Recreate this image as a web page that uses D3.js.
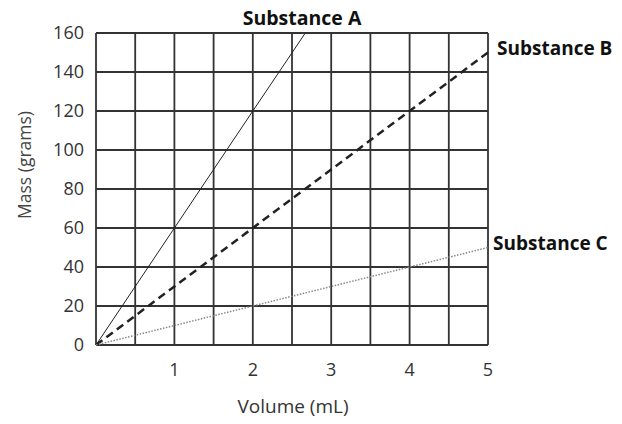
<!DOCTYPE html>
<html>
<head>
<meta charset="utf-8">
<script src="https://cdn.jsdelivr.net/npm/d3@7"></script>
<style>
  body { margin: 0; background: #fff; }
  text { font-family: "Open Sans", sans-serif; }
</style>
</head>
<body>
<div id="chart"></div>
<script>
const volumeA = [0, 1, 2, 2.67];
const massA = [0, 60, 120, 160];
const volumeB = [0, 1, 2, 3, 4, 5];
const massB = [0, 30, 60, 90, 120, 150];
const volumeC = [0, 1, 2, 3, 4, 5];
const massC = [0, 10, 20, 30, 40, 50];
const xTicks = [1, 2, 3, 4, 5];
const yTicks = [0, 20, 40, 60, 80, 100, 120, 140, 160];
const xGrid = [0, 0.5, 1, 1.5, 2, 2.5, 3, 3.5, 4, 4.5, 5];

const width = 622, height = 424;
const margin = {left: 96, right: 134, top: 33, bottom: 79};

const svg = d3.select("#chart").append("svg")
    .attr("width", width)
    .attr("height", height);

const x = d3.scaleLinear().domain([0, 5]).range([margin.left, width - margin.right]);
const y = d3.scaleLinear().domain([0, 160]).range([height - margin.bottom, margin.top]);

// grid
svg.append("g").selectAll("line")
    .data(xGrid)
    .join("line")
    .attr("x1", d => x(d)).attr("x2", d => x(d))
    .attr("y1", y(0)).attr("y2", y(160))
    .style("stroke", "#333")
    .style("stroke-width", 1.8);

svg.append("g").selectAll("line")
    .data(yTicks)
    .join("line")
    .attr("x1", x(0)).attr("x2", x(5))
    .attr("y1", d => y(d)).attr("y2", d => y(d))
    .style("stroke", "#333")
    .style("stroke-width", 1.8);

// tick labels
svg.append("g").selectAll("text")
    .data(yTicks)
    .join("text")
    .attr("x", 84)
    .attr("y", d => y(d))
    .attr("dy", "0.36em")
    .attr("text-anchor", "end")
    .attr("font-size", 18)
    .attr("fill", "#333")
    .text(d => d);

svg.append("g").selectAll("text")
    .data(xTicks)
    .join("text")
    .attr("x", d => x(d))
    .attr("y", 376)
    .attr("text-anchor", "middle")
    .attr("font-size", 18)
    .attr("fill", "#333")
    .text(d => d);

svg.append("text")
    .attr("x", 293).attr("y", 413)
    .attr("text-anchor", "middle")
    .attr("font-size", 19)
    .attr("fill", "#333")
    .text("Volume (mL)");

svg.append("text")
    .attr("transform", "translate(31,165) rotate(-90)")
    .attr("text-anchor", "middle")
    .attr("font-size", 17.5)
    .attr("fill", "#444")
    .text("Mass (grams)");

const line = d3.line().x(d => x(d[0])).y(d => y(d[1]));

svg.append("path")
    .attr("d", line(d3.zip(volumeA, massA)))
    .style("fill", "none")
    .style("stroke", "#222")
    .style("stroke-width", 1);

svg.append("path")
    .attr("d", line(d3.zip(volumeB, massB)))
    .style("fill", "none")
    .style("stroke", "#222")
    .style("stroke-width", 2.5)
    .style("stroke-dasharray", "8,5");

svg.append("path")
    .attr("d", line(d3.zip(volumeC, massC)))
    .style("fill", "none")
    .style("stroke", "#888")
    .style("stroke-width", 1.5)
    .style("stroke-dasharray", "1.5,1.5");

// series labels
svg.append("text")
    .attr("x", 302).attr("y", 25)
    .attr("text-anchor", "middle")
    .attr("font-size", 19.5).attr("font-weight", "bold")
    .attr("fill", "#111")
    .text("Substance A");

svg.append("text")
    .attr("x", 497).attr("y", 55)
    .attr("font-size", 19).attr("font-weight", "bold")
    .attr("fill", "#111")
    .text("Substance B");

svg.append("text")
    .attr("x", 493).attr("y", 250)
    .attr("font-size", 19).attr("font-weight", "bold")
    .attr("fill", "#111")
    .text("Substance C");
</script>
</body>
</html>
